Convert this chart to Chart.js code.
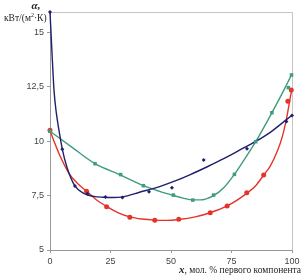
<!DOCTYPE html>
<html>
<head>
<meta charset="utf-8">
<script src="https://cdn.jsdelivr.net/npm/chart.js@4/dist/chart.umd.min.js"></script>
<style>
  html, body { margin: 0; padding: 0; background: #fff; }
  #wrap { width: 304px; height: 275px; position: relative; }
</style>
</head>
<body>
<div id="wrap"><canvas id="chart"></canvas></div>
<script>
// tick labels
const xTicks = [0, 25, 50, 75, 100];
const yTicks = [5, 7.5, 10, 12.5, 15];

// measured points
const blueX = [0, 5.1, 10.3, 15.5, 22.9, 29.9, 40.9, 50.4, 63.5, 81.4, 97.7, 100];
const blueY = [15.92, 9.62, 7.94, 7.58, 7.43, 7.41, 7.67, 7.86, 9.13, 9.64, 10.9, 11.17];

const greenX = [0, 18.6, 29.2, 38.6, 51, 59, 67.6, 76.2, 85, 91.7, 98.5, 99.8];
const greenY = [10.45, 8.96, 8.46, 7.95, 7.52, 7.29, 7.52, 8.47, 9.97, 11.3, 12.45, 13.03];

const redX = [0, 15.1, 23.4, 33, 43.3, 53.2, 66.2, 73.2, 81.3, 88.3, 98.3, 99.7];
const redY = [10.5, 7.69, 6.99, 6.5, 6.37, 6.41, 6.71, 7.02, 7.63, 8.44, 11.83, 12.34];

// trend lines
const blueFitX = [0, 0.8, 1.65, 2.6, 3.7, 5.1, 7, 10.3, 14, 18, 22, 26, 30, 37, 45, 52, 58, 65, 72, 78.5, 85, 91, 97.7, 100];
const blueFitY = [15.92, 14.1, 12.34, 11.3, 10.5, 9.62, 8.8, 7.94, 7.6, 7.46, 7.42, 7.41, 7.44, 7.65, 7.9, 8.18, 8.46, 8.82, 9.2, 9.59, 9.98, 10.4, 10.98, 11.18];

const greenFitX = [0, 9, 18.6, 29.2, 38.6, 45, 51, 55, 59, 62, 67.6, 72, 76.2, 80, 85, 91.7, 96, 100];
const greenFitY = [10.45, 9.72, 8.96, 8.44, 7.95, 7.7, 7.5, 7.38, 7.3, 7.3, 7.5, 7.88, 8.47, 9.1, 9.97, 11.3, 12.2, 13.08];

const redFitX = [0, 3.7, 7.85, 11.3, 15.1, 19, 23.4, 28, 33, 38, 43.3, 48, 53.2, 60, 66.2, 73.2, 81.3, 85, 88.3, 91, 94, 96, 97.5, 98.5, 99.3, 100];
const redFitY = [10.47, 9.43, 8.52, 8.06, 7.7, 7.32, 7.0, 6.72, 6.52, 6.42, 6.37, 6.36, 6.4, 6.52, 6.71, 7.02, 7.6, 7.95, 8.44, 8.85, 9.55, 10.2, 10.9, 11.5, 12.0, 12.42];

const BLUE = '#1f1f6e';
const GREEN = '#3f9c7c';
const RED = '#e5332a';

const pts = (xs, ys) => xs.map((x, i) => ({ x: x, y: ys[i] }));

function fitLine(xs, ys, color) {
  return {
    type: 'line',
    data: pts(xs, ys),
    borderColor: color,
    borderWidth: 1.4,
    pointRadius: 0,
    cubicInterpolationMode: 'monotone',
    fill: false,
    clip: 2,
    order: 2
  };
}

function marks(xs, ys, color, style, r) {
  return {
    type: 'scatter',
    data: pts(xs, ys),
    backgroundColor: color,
    borderColor: color,
    borderWidth: 0,
    pointStyle: style,
    pointRadius: r,
    clip: false,
    order: 1
  };
}

const frame = {
  id: 'frame',
  beforeDatasetsDraw(chart) {
    const { ctx, chartArea: a } = chart;
    ctx.save();
    ctx.strokeStyle = '#c4c4c4';
    ctx.lineWidth = 1;
    ctx.beginPath();
    ctx.moveTo(a.left, a.top + 0.5);
    ctx.lineTo(a.right + 0.5, a.top + 0.5);
    ctx.lineTo(a.right + 0.5, a.bottom);
    ctx.stroke();
    ctx.restore();
  },
  afterDraw(chart) {
    const ctx = chart.ctx;
    ctx.save();
    ctx.fillStyle = '#222';
    ctx.textBaseline = 'alphabetic';

    // y axis title
    ctx.font = 'bold italic 11px "Liberation Serif", serif';
    ctx.textAlign = 'center';
    ctx.fillText('α,', 36, 9);

    ctx.textAlign = 'left';
    ctx.font = '9.5px "Liberation Serif", serif';
    let x = 4;
    const y = 21;
    const p1 = 'кВт/(м';
    ctx.fillText(p1, x, y);
    x += ctx.measureText(p1).width;
    ctx.font = '6px "Liberation Serif", serif';
    ctx.fillText('2', x, y - 4);
    x += ctx.measureText('2').width;
    ctx.font = '9.5px "Liberation Serif", serif';
    ctx.fillText('·К)', x, y);

    // x axis title, right aligned
    ctx.font = '9.5px "Liberation Serif", serif';
    const rest = ', мол. % первого компонента';
    const wRest = ctx.measureText(rest).width;
    ctx.font = 'bold italic 11px "Liberation Serif", serif';
    const wX = ctx.measureText('x').width;
    const start = 301 - wRest - wX;
    ctx.fillText('x', start, 273);
    ctx.font = '9.5px "Liberation Serif", serif';
    ctx.fillText(rest, start + wX, 273);
    ctx.restore();
  }
};

new Chart(document.getElementById('chart'), {
  data: {
    datasets: [
      fitLine(blueFitX, blueFitY, BLUE),
      fitLine(greenFitX, greenFitY, GREEN),
      fitLine(redFitX, redFitY, RED),
      marks(blueX, blueY, BLUE, 'rectRot', 2),
      marks(greenX, greenY, GREEN, 'rect', 2.5),
      marks(redX, redY, RED, 'circle', 2.5)
    ]
  },
  options: {
    responsive: true,
    maintainAspectRatio: false,
    animation: false,
    events: [],
    layout: { padding: { top: 12, right: 12, left: 0, bottom: 0 } },
    plugins: { legend: { display: false }, tooltip: { enabled: false } },
    scales: {
      x: {
        type: 'linear',
        min: 0,
        max: 100,
        afterBuildTicks: s => { s.ticks = xTicks.map(v => ({ value: v })); },
        afterFit: s => { s.height = 25; },
        grid: { drawOnChartArea: false, drawTicks: true, tickLength: 3, color: '#999' },
        border: { color: '#999' },
        ticks: { color: '#444', font: { family: '"Liberation Sans", Arial', size: 9 }, padding: 3, maxRotation: 0 }
      },
      y: {
        type: 'linear',
        min: 5,
        max: 15.92,
        afterBuildTicks: s => { s.ticks = yTicks.map(v => ({ value: v })); },
        afterFit: s => { s.width = 50; },
        grid: { drawOnChartArea: false, drawTicks: true, tickLength: 3, color: '#999' },
        border: { color: '#999' },
        ticks: {
          color: '#444',
          font: { family: '"Liberation Sans", Arial', size: 9 },
          padding: 3,
          callback: v => String(v).replace('.', ',')
        }
      }
    }
  },
  plugins: [frame]
});
</script>
</body>
</html>
